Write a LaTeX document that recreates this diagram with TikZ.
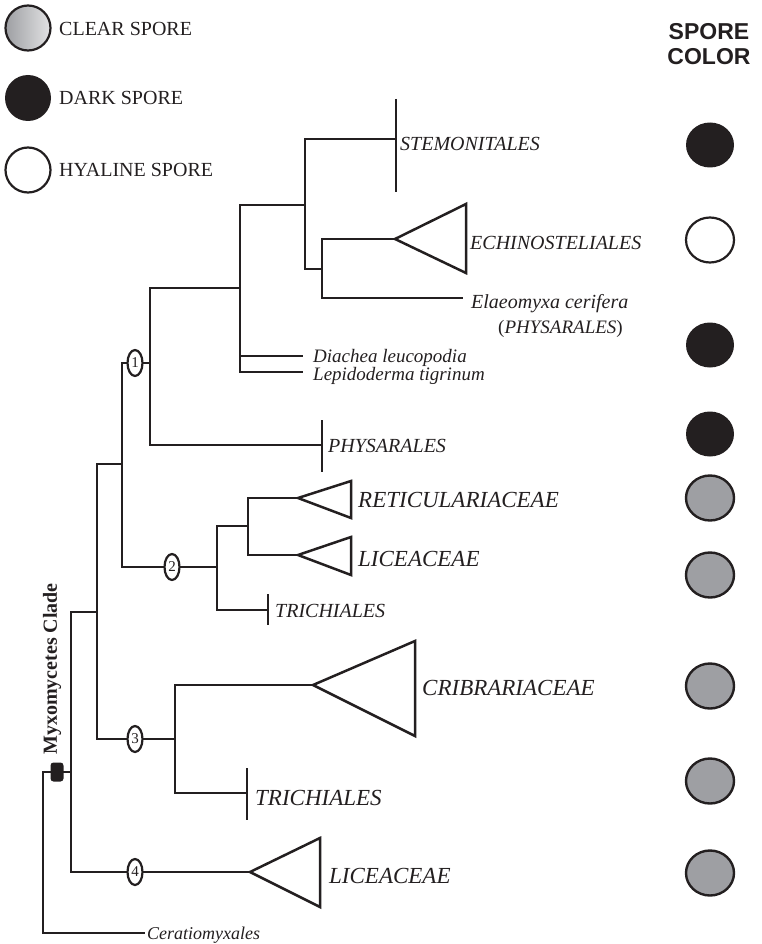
\documentclass[tikz,border=0pt]{standalone}
\usepackage{fontspec}
\setmainfont{Liberation Serif}
\newfontfamily\sansf{Liberation Sans}
\usetikzlibrary{shapes.geometric}
\definecolor{ink}{RGB}{35,31,32}
\definecolor{clr}{RGB}{158,159,163}
\begin{document}
\begin{tikzpicture}[x=1pt,y=-1pt,
  br/.style={draw=ink, line width=2.5pt},
  lbl/.style={anchor=base west, inner sep=0pt, text=ink, font=\itshape\fontsize{20}{20}\selectfont},
  lblsm/.style={lbl, font=\itshape\fontsize{19}{19}\selectfont},
  lblbig/.style={lbl, font=\itshape\fontsize{23}{23}\selectfont},
  num/.style={ellipse, draw=ink, fill=white, line width=2.2pt, minimum width=15pt, minimum height=26pt, inner sep=0pt, text=ink, font=\fontsize{15}{15}\selectfont},
  spore/.style={ellipse, minimum width=48pt, minimum height=45pt, inner sep=0pt},
  darksp/.style={spore, fill=ink},
  hyalsp/.style={spore, draw=ink, line width=2.2pt, fill=white},
  clearsp/.style={spore, draw=ink, line width=2.4pt, fill=clr},
  legtext/.style={anchor=base west, inner sep=0pt, text=ink, font=\fontsize{20}{20}\selectfont},
  mboxsty/.style={fill=ink, rounded corners=3pt, minimum width=13pt, minimum height=19pt, inner sep=0pt}
]
\useasboundingbox (0,0) rectangle (762,944);

% ---- coordinates of the tree
\coordinate (rootTop) at (43,772);
\coordinate (cerEnd) at (145,933);
\coordinate (aM) at (71,772);
\coordinate (aTop) at (71,612);
\coordinate (bJ) at (97,612);
\coordinate (bTop) at (97,464);
\coordinate (dJ) at (122,464);
\coordinate (dTop) at (122,363);
\coordinate (eJ) at (150,363);
\coordinate (eTop) at (150,288);
\coordinate (fJ) at (240,288);
\coordinate (fTop) at (240,205);
\coordinate (gJ) at (305,205);
\coordinate (gTop) at (305,139);
\coordinate (stem) at (396,139);
\coordinate (hJ) at (322,269);
\coordinate (hTop) at (322,239);
\coordinate (echTip) at (395,239);
\coordinate (elaEnd) at (463,298);
\coordinate (diaEnd) at (303,356);
\coordinate (lepEnd) at (303,372);
\coordinate (phyBar) at (322,445);
\coordinate (iJ) at (217,567);
\coordinate (iTop) at (217,526);
\coordinate (jJ) at (248,526);
\coordinate (jTop) at (248,498);
\coordinate (retTip) at (298,498);
\coordinate (licTip) at (298,555);
\coordinate (triBar) at (268,610);
\coordinate (cJ) at (175,739);
\coordinate (cTop) at (175,685);
\coordinate (cribTip) at (313,685);
\coordinate (tri2Bar) at (247,793);
\coordinate (l4Tip) at (250,872);

% ---- branches
\draw[br] (aM) -- (rootTop) |- (cerEnd);
\draw[br] (bJ) -- (aTop) |- (l4Tip);
\draw[br] (dJ) -- (bTop) |- (cJ);
\draw[br] (eJ) -- (dTop) |- (iJ);
\draw[br] (fJ) -- (eTop) |- (phyBar);
\draw[br] (gJ) -- (fTop) |- (lepEnd);
\draw[br] (fJ) |- (diaEnd);
\draw[br] (stem) -- (gTop) |- (hJ);
\draw[br] (echTip) -- (hTop) |- (elaEnd);
\draw[br] (jJ) -- (iTop) |- (triBar);
\draw[br] (retTip) -- (jTop) |- (licTip);
\draw[br] (cribTip) -- (cTop) |- (tri2Bar);

% ---- terminal bars
\draw[br] (stem) ++(0,-40) -- ++(0,93);
\draw[br] (phyBar) ++(0,-25) -- ++(0,52);
\draw[br] (triBar) ++(0,-16) -- ++(0,31);
\draw[br] (tri2Bar) ++(0,-25) -- ++(0,52);

% ---- collapsed clades
\draw[br] (echTip) -- ++(71,-35) -- ++(0,69) -- cycle;
\draw[br] (retTip) -- ++(53,-17) -- ++(0,37) -- cycle;
\draw[br] (licTip) -- ++(53,-18) -- ++(0,38) -- cycle;
\draw[br] (cribTip) -- ++(102,-44) -- ++(0,95) -- cycle;
\draw[br] (l4Tip) -- ++(70,-34) -- ++(0,69) -- cycle;

% ---- node markers
\node[num] (n1) at (135,363) {1};
\node[num] (n2) at (172,567) {2};
\node[num] (n3) at (135,739) {3};
\node[num] (n4) at (135,872) {4};
\node[mboxsty] (myx) at (57,772) {};
\node[rotate=90, inner sep=0pt, text=ink, font=\bfseries\fontsize{20}{20}\selectfont] (clade) at (52,669) {Myxomycetes Clade};

% ---- labels
\node[lbl] (tStem) at (400,151) {STEMONITALES};
\node[lbl] (tEch) at (470,249) {ECHINOSTELIALES};
\node[lbl] (tEla) at (471,308) {Elaeomyxa cerifera};
\node[lbl, font=\fontsize{19}{19}\selectfont] (tEla2) at (498,333) {(\textit{PHYSARALES})};
\node[lblsm] (tDia) at (313,362) {Diachea leucopodia};
\node[lblsm] (tLep) at (313,380) {Lepidoderma tigrinum};
\node[lbl] (tPhy) at (328,452) {PHYSARALES};
\node[lblbig] (tRet) at (358,507) {RETICULARIACEAE};
\node[lblbig] (tLic) at (358,566) {LICEACEAE};
\node[lbl] (tTri) at (275,617) {TRICHIALES};
\node[lblbig] (tCri) at (422,695) {CRIBRARIACEAE};
\node[lblbig] (tTri2) at (255,805) {TRICHIALES};
\node[lblbig] (tLic2) at (329,883) {LICEACEAE};
\node[lbl, font=\itshape\fontsize{18}{18}\selectfont] (tCer) at (147,939) {Ceratiomyxales};

% ---- spore colour column
\node[text=ink, align=center, inner sep=0pt, font=\sansf\bfseries\fontsize{23}{25}\selectfont] (head) at (709,44) {SPORE\\COLOR};
\node[darksp] (s1) at (710,145) {};
\node[hyalsp] (s2) at (710,240) {};
\node[darksp] (s3) at (710,345) {};
\node[darksp] (s4) at (710,434) {};
\node[clearsp] (s5) at (710,498) {};
\node[clearsp] (s6) at (710,575) {};
\node[clearsp] (s7) at (710,686) {};
\node[clearsp] (s8) at (710,781) {};
\node[clearsp] (s9) at (710,873) {};

% ---- legend
\node[circle, minimum size=45pt, inner sep=0pt, draw=ink, line width=2.2pt, left color=clr, middle color=clr!90, right color=clr!30] (lg1) at (28,28) {};
\node[circle, minimum size=46pt, inner sep=0pt, fill=ink] (lg2) at (28,98) {};
\node[circle, minimum size=45pt, inner sep=0pt, draw=ink, line width=2.2pt, fill=white] (lg3) at (28,170) {};
\node[legtext] (lt1) at (59,36) {CLEAR SPORE};
\node[legtext] (lt2) at (59,105) {DARK SPORE};
\node[legtext] (lt3) at (59,176) {HYALINE SPORE};
\end{tikzpicture}
\end{document}
